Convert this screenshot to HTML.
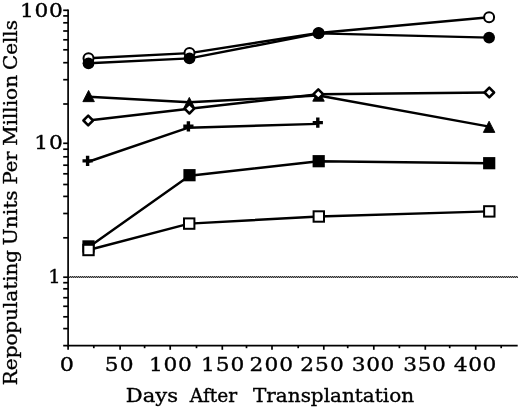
<!DOCTYPE html>
<html><head><meta charset="utf-8"><style>
html,body{margin:0;padding:0;background:#fff;width:520px;height:408px;overflow:hidden}
svg{display:block}
</style></head><body>
<svg width="520" height="408" viewBox="0 0 520 408">
<rect width="520" height="408" fill="#fff"/>
<defs><pattern id="chk" width="2" height="2" patternUnits="userSpaceOnUse"><rect x="0" y="0" width="1" height="1" fill="#333"/><rect x="1" y="1" width="1" height="1" fill="#333"/><rect x="1" y="0" width="1" height="1" fill="#999"/><rect x="0" y="1" width="1" height="1" fill="#999"/></pattern></defs>
<rect x="69" y="276" width="449" height="2" fill="url(#chk)"/>
<g stroke="#000" stroke-width="1.7" fill="none">
<line x1="68.1" y1="9.5" x2="68.1" y2="346.5"/>
<line x1="63.2" y1="345.6" x2="517.7" y2="345.6"/>
<line x1="63.2" y1="10.3" x2="68.1" y2="10.3"/>
<line x1="63.2" y1="15.9" x2="68.1" y2="15.9"/>
<line x1="63.2" y1="22.8" x2="68.1" y2="22.8"/>
<line x1="63.2" y1="31.0" x2="68.1" y2="31.0"/>
<line x1="63.2" y1="39.8" x2="68.1" y2="39.8"/>
<line x1="63.2" y1="49.8" x2="68.1" y2="49.8"/>
<line x1="63.2" y1="62.7" x2="68.1" y2="62.7"/>
<line x1="63.2" y1="79.7" x2="68.1" y2="79.7"/>
<line x1="63.2" y1="104" x2="68.1" y2="104"/>
<line x1="63.2" y1="143.3" x2="68.1" y2="143.3"/>
<line x1="63.2" y1="149.2" x2="68.1" y2="149.2"/>
<line x1="63.2" y1="156.8" x2="68.1" y2="156.8"/>
<line x1="63.2" y1="165.2" x2="68.1" y2="165.2"/>
<line x1="63.2" y1="173.8" x2="68.1" y2="173.8"/>
<line x1="63.2" y1="184.5" x2="68.1" y2="184.5"/>
<line x1="63.2" y1="196.4" x2="68.1" y2="196.4"/>
<line x1="63.2" y1="213.5" x2="68.1" y2="213.5"/>
<line x1="63.2" y1="237.8" x2="68.1" y2="237.8"/>
<line x1="63.2" y1="277.2" x2="68.1" y2="277.2"/>
<line x1="63.2" y1="282.7" x2="68.1" y2="282.7"/>
<line x1="63.2" y1="288.8" x2="68.1" y2="288.8"/>
<line x1="63.2" y1="297.7" x2="68.1" y2="297.7"/>
<line x1="63.2" y1="306.3" x2="68.1" y2="306.3"/>
<line x1="63.2" y1="316.8" x2="68.1" y2="316.8"/>
<line x1="63.2" y1="328.6" x2="68.1" y2="328.6"/>
<line x1="68.1" y1="345.6" x2="68.1" y2="349.8"/>
<line x1="120.1" y1="345.6" x2="120.1" y2="349.8"/>
<line x1="170.2" y1="345.6" x2="170.2" y2="349.8"/>
<line x1="222.3" y1="345.6" x2="222.3" y2="349.8"/>
<line x1="272" y1="345.6" x2="272" y2="349.8"/>
<line x1="323.8" y1="345.6" x2="323.8" y2="349.8"/>
<line x1="373.8" y1="345.6" x2="373.8" y2="349.8"/>
<line x1="425.3" y1="345.6" x2="425.3" y2="349.8"/>
<line x1="475.7" y1="345.6" x2="475.7" y2="349.8"/>
<line x1="93.8" y1="345.6" x2="93.8" y2="348.2"/>
<line x1="144.6" y1="345.6" x2="144.6" y2="348.2"/>
<line x1="196.5" y1="345.6" x2="196.5" y2="348.2"/>
<line x1="246.5" y1="345.6" x2="246.5" y2="348.2"/>
<line x1="298.2" y1="345.6" x2="298.2" y2="348.2"/>
<line x1="347.7" y1="345.6" x2="347.7" y2="348.2"/>
<line x1="399.4" y1="345.6" x2="399.4" y2="348.2"/>
<line x1="449.7" y1="345.6" x2="449.7" y2="348.2"/>
<line x1="501.2" y1="345.6" x2="501.2" y2="348.2"/>
</g>
<path d="M88.5,58.3 L189.5,53.1 L318.6,33.0 L489.1,17.2" fill="none" stroke="#000" stroke-width="2.4" stroke-linejoin="round"/>
<path d="M88.5,63.3 L189.5,58.4 L318.6,33.4 L489.1,37.6" fill="none" stroke="#000" stroke-width="2.4" stroke-linejoin="round"/>
<path d="M88.6,96.8 L189.3,102.3 L318.5,95.5 L489.3,126.6" fill="none" stroke="#000" stroke-width="2.4" stroke-linejoin="round"/>
<path d="M88.2,120.5 L189.4,108.7 L318.3,94.2 L489.3,92.5" fill="none" stroke="#000" stroke-width="2.4" stroke-linejoin="round"/>
<path d="M87.6,162.0 L188.4,127.7 L317.8,123.9" fill="none" stroke="#000" stroke-width="2.4" stroke-linejoin="round"/>
<path d="M88.5,247.3 L189.5,175.8 L318.7,161.2 L489.2,163.2" fill="none" stroke="#000" stroke-width="2.4" stroke-linejoin="round"/>
<path d="M88.5,250.0 L189.2,223.6 L318.8,216.5 L489.3,211.4" fill="none" stroke="#000" stroke-width="2.4" stroke-linejoin="round"/>
<circle cx="88.5" cy="58.3" r="5.0" fill="#fff" stroke="#000" stroke-width="2"/>
<circle cx="189.5" cy="53.1" r="5.0" fill="#fff" stroke="#000" stroke-width="2"/>
<circle cx="318.6" cy="33.0" r="5.0" fill="#fff" stroke="#000" stroke-width="2"/>
<circle cx="489.1" cy="17.2" r="5.0" fill="#fff" stroke="#000" stroke-width="2"/>
<circle cx="88.5" cy="63.3" r="5.9" fill="#000"/>
<circle cx="189.5" cy="58.4" r="5.9" fill="#000"/>
<circle cx="318.6" cy="33.4" r="5.9" fill="#000"/>
<circle cx="489.1" cy="37.6" r="5.9" fill="#000"/>
<path d="M88.60,90.45 L94.35,101.65 L82.85,101.65Z" fill="#000" stroke="#000" stroke-width="0.9" stroke-linejoin="round"/>
<path d="M189.30,97.40 L195.05,108.60 L183.55,108.60Z" fill="#000" stroke="#000" stroke-width="0.9" stroke-linejoin="round"/>
<path d="M318.50,90.00 L324.25,101.20 L312.75,101.20Z" fill="#000" stroke="#000" stroke-width="0.9" stroke-linejoin="round"/>
<path d="M489.10,121.20 L494.85,132.40 L483.35,132.40Z" fill="#000" stroke="#000" stroke-width="0.9" stroke-linejoin="round"/>
<path d="M88.2,115.7 L93.0,120.5 L88.2,125.3 L83.4,120.5Z" fill="#fff" stroke="#000" stroke-width="2.5" stroke-linejoin="round"/>
<path d="M189.4,103.9 L194.2,108.7 L189.4,113.5 L184.6,108.7Z" fill="#fff" stroke="#000" stroke-width="2.5" stroke-linejoin="round"/>
<path d="M318.3,89.4 L323.1,94.2 L318.3,99.0 L313.5,94.2Z" fill="#fff" stroke="#000" stroke-width="2.5" stroke-linejoin="round"/>
<path d="M489.3,87.7 L494.1,92.5 L489.3,97.3 L484.5,92.5Z" fill="#fff" stroke="#000" stroke-width="2.5" stroke-linejoin="round"/>
<path d="M82.5,160.9H92.7M87.6,155.8V166.0" stroke="#000" stroke-width="3.4" fill="none"/>
<path d="M183.3,126.3H193.5M188.4,121.2V131.4" stroke="#000" stroke-width="3.4" fill="none"/>
<path d="M312.7,122.6H322.9M317.8,117.5V127.7" stroke="#000" stroke-width="3.4" fill="none"/>
<rect x="82.4" y="240.3" width="12.2" height="12.2" fill="#000"/>
<rect x="183.4" y="169.1" width="12.2" height="12.2" fill="#000"/>
<rect x="312.6" y="155.1" width="12.2" height="12.2" fill="#000"/>
<rect x="483.1" y="157.1" width="12.2" height="12.2" fill="#000"/>
<rect x="83.3" y="244.8" width="10.4" height="10.4" fill="#fff" stroke="#000" stroke-width="2"/>
<rect x="184.0" y="218.4" width="10.4" height="10.4" fill="#fff" stroke="#000" stroke-width="2"/>
<rect x="313.6" y="211.3" width="10.4" height="10.4" fill="#fff" stroke="#000" stroke-width="2"/>
<rect x="484.1" y="206.2" width="10.4" height="10.4" fill="#fff" stroke="#000" stroke-width="2"/>
<g font-family='"DejaVu Serif", "Liberation Serif", serif' fill="#000" stroke="#000" stroke-width="0.35">
<text transform="translate(41.43,17.00) scale(1.12,1)" font-size="19.40" text-anchor="middle" textLength="38.18" lengthAdjust="spacing">100</text>
<text transform="translate(48.52,149.00) scale(1.12,1)" font-size="19.40" text-anchor="middle" textLength="25.54" lengthAdjust="spacing">10</text>
<text transform="translate(54.52,283.00) scale(1.008981516679186,1)" font-size="19.40" text-anchor="middle">1</text>
<text transform="translate(66.80,371.00) scale(1.15,1)" font-size="19.40" text-anchor="middle">0</text>
<text transform="translate(119.05,371.00) scale(1.12,1)" font-size="19.40" text-anchor="middle" textLength="25.77" lengthAdjust="spacing">50</text>
<text transform="translate(170.44,371.00) scale(1.12,1)" font-size="19.40" text-anchor="middle" textLength="38.16" lengthAdjust="spacing">100</text>
<text transform="translate(222.69,371.00) scale(1.12,1)" font-size="19.40" text-anchor="middle" textLength="38.63" lengthAdjust="spacing">150</text>
<text transform="translate(271.30,371.00) scale(1.12,1)" font-size="19.40" text-anchor="middle" textLength="38.85" lengthAdjust="spacing">200</text>
<text transform="translate(322.02,371.00) scale(1.12,1)" font-size="19.40" text-anchor="middle" textLength="38.87" lengthAdjust="spacing">250</text>
<text transform="translate(373.07,371.00) scale(1.12,1)" font-size="19.40" text-anchor="middle" textLength="37.93" lengthAdjust="spacing">300</text>
<text transform="translate(424.60,371.00) scale(1.12,1)" font-size="19.40" text-anchor="middle" textLength="38.08" lengthAdjust="spacing">350</text>
<text transform="translate(475.09,371.00) scale(1.12,1)" font-size="19.40" text-anchor="middle" textLength="37.94" lengthAdjust="spacing">400</text>
<text transform="translate(151.85,402.00)" font-size="18.40" text-anchor="middle" textLength="52.23" lengthAdjust="spacingAndGlyphs">Days</text>
<text transform="translate(213.53,402.00)" font-size="18.40" text-anchor="middle" textLength="47.34" lengthAdjust="spacingAndGlyphs">After</text>
<text transform="translate(333.51,402.00)" font-size="18.40" text-anchor="middle" textLength="161.04" lengthAdjust="spacingAndGlyphs">Transplantation</text>
<text transform="translate(16.90,317.52) rotate(-90)" font-size="18.40" text-anchor="middle" textLength="135.22" lengthAdjust="spacingAndGlyphs">Repopulating</text>
<text transform="translate(16.90,217.74) rotate(-90)" font-size="18.40" text-anchor="middle" textLength="54.91" lengthAdjust="spacingAndGlyphs">Units</text>
<text transform="translate(16.90,167.97) rotate(-90)" font-size="18.40" text-anchor="middle" textLength="33.18" lengthAdjust="spacingAndGlyphs">Per</text>
<text transform="translate(16.90,110.43) rotate(-90)" font-size="18.40" text-anchor="middle" textLength="70.80" lengthAdjust="spacingAndGlyphs">Million</text>
<text transform="translate(16.90,45.10) rotate(-90)" font-size="18.40" text-anchor="middle" textLength="50.01" lengthAdjust="spacingAndGlyphs">Cells</text>
</g>
</svg>
</body></html>
